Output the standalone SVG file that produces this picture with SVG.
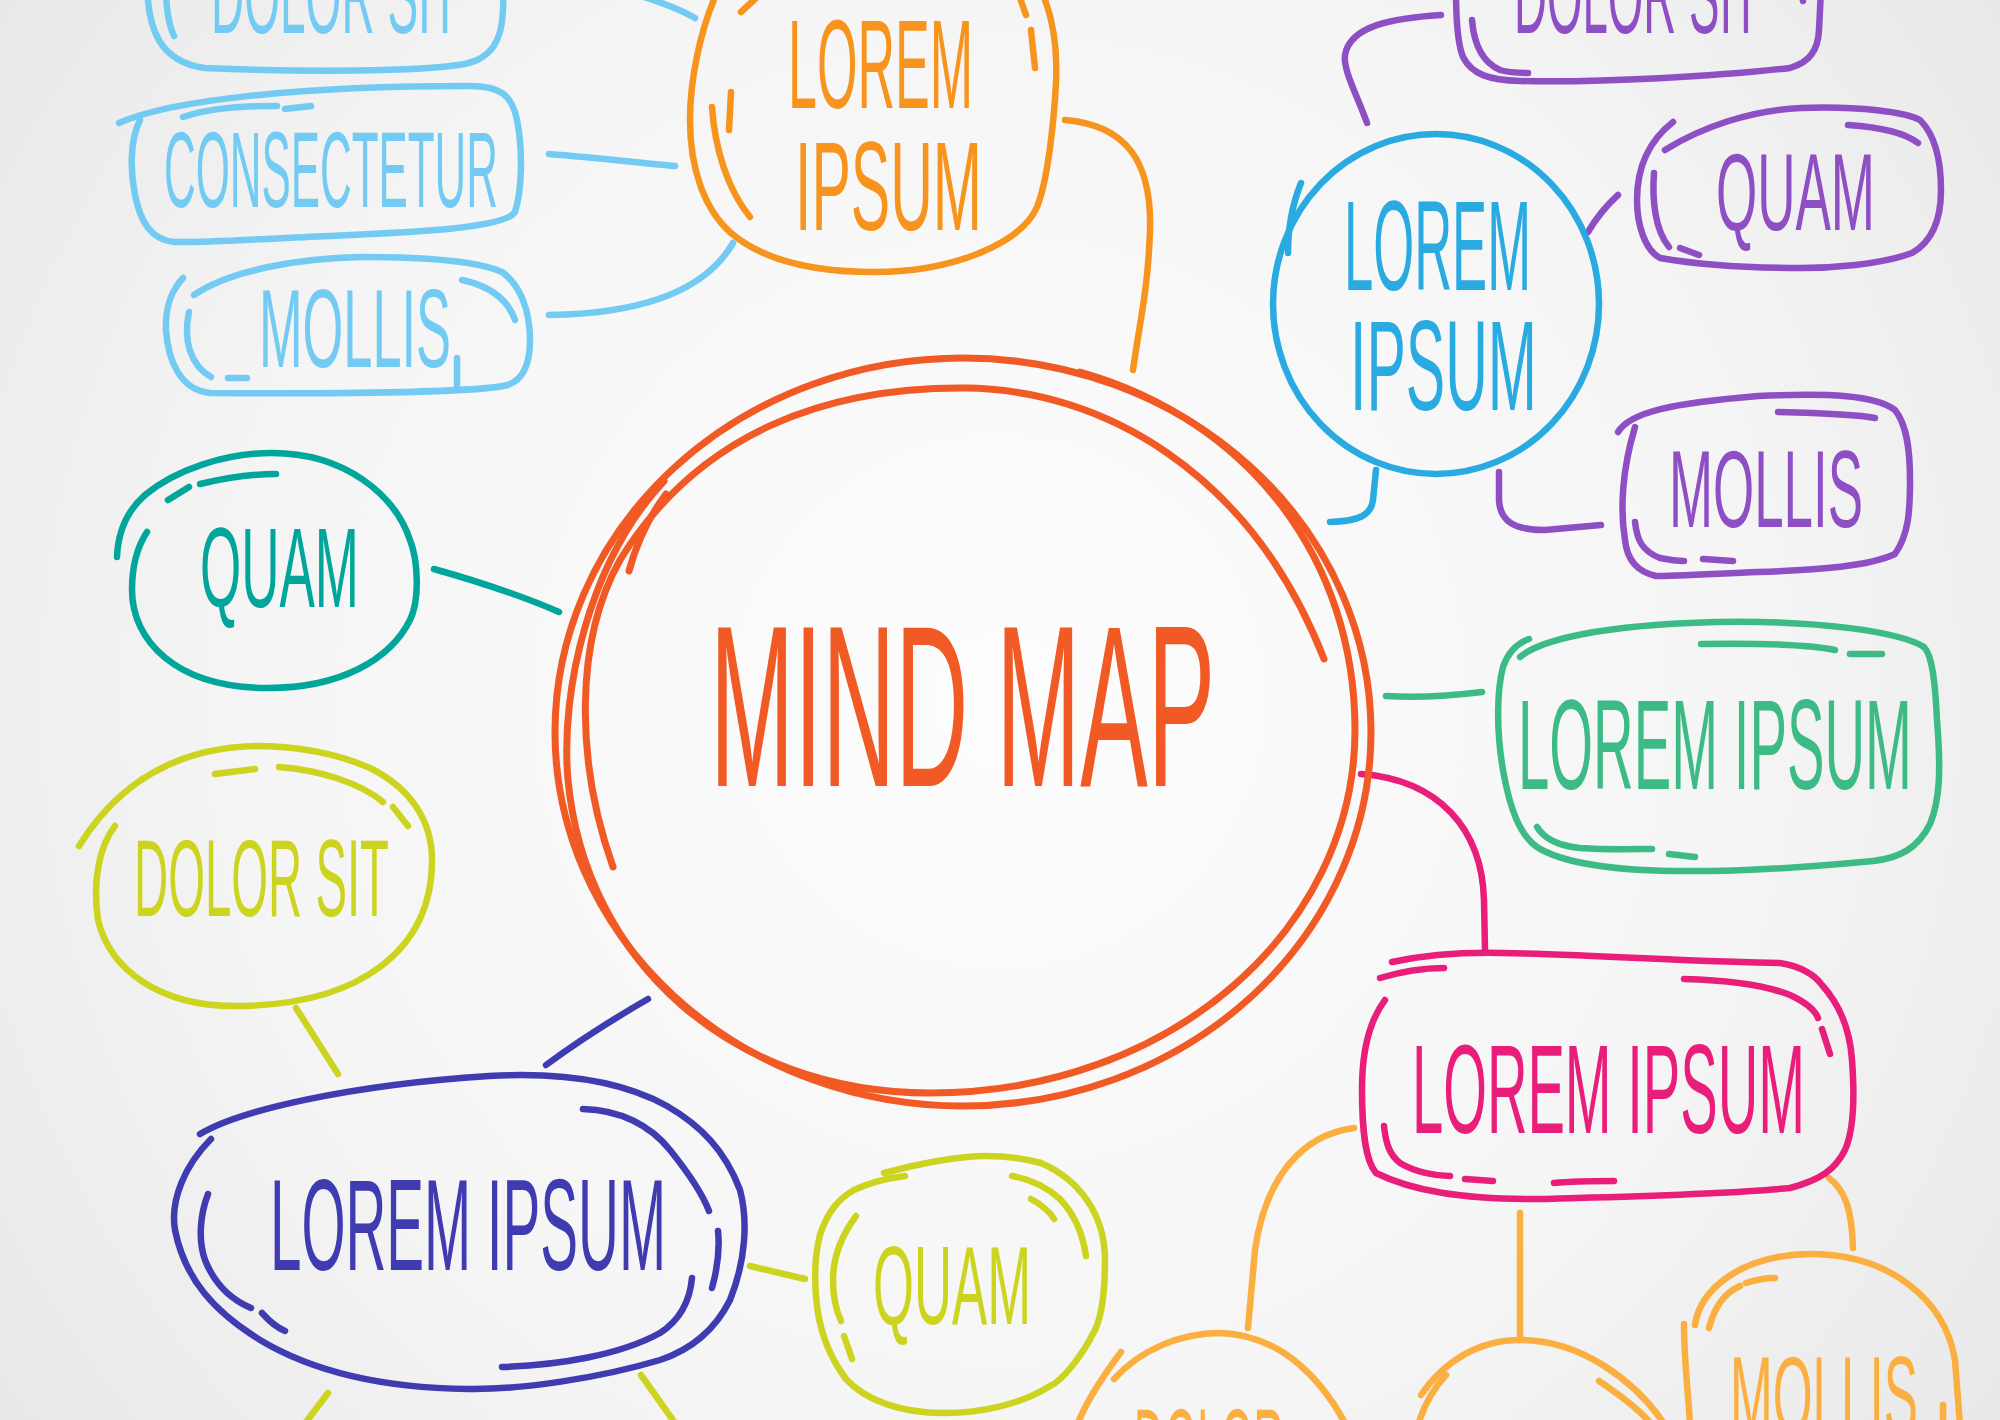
<svg xmlns="http://www.w3.org/2000/svg" width="2000" height="1420" viewBox="0 0 2000 1420">
<defs>
<radialGradient id="bg" cx="1000" cy="700" r="1250" gradientUnits="userSpaceOnUse">
<stop offset="0" stop-color="#fdfdfd"/>
<stop offset="0.6" stop-color="#f5f5f5"/>
<stop offset="1" stop-color="#e8e8e8"/>
</radialGradient>
</defs>
<style>
path,ellipse{fill:none;stroke-linecap:round;stroke-linejoin:round;stroke-width:6.5}
text{font-family:"Liberation Sans Narrow","Liberation Sans",Arial,sans-serif;font-weight:normal}
.lb{stroke:#73CBF3}.lbt{fill:#73CBF3}
.or{stroke:#F7941D}.ort{fill:#F7941D}
.rd{stroke:#F15A24;stroke-width:7}.rdt{fill:#F15A24}
.bl{stroke:#29AAE1}.blt{fill:#29AAE1}
.pu{stroke:#8E4FC4}.put{fill:#8E4FC4}
.te{stroke:#00A69C}.tet{fill:#00A69C}
.yg{stroke:#CCD420}.ygt{fill:#CCD420}
.in{stroke:#3F3BB1}.int{fill:#3F3BB1}
.gr{stroke:#3DBB87}.grt{fill:#3DBB87}
.mg{stroke:#E91E7B}.mgt{fill:#E91E7B}
.lo{stroke:#FAAF40}.lot{fill:#FAAF40}
</style>
<rect width="2000" height="1420" fill="url(#bg)"/>

<g id="connectors">
<path class="lb" d="M549,154 C600,158 640,163 675,166"/>
<path class="lb" d="M549,315 C620,314 700,300 733,243"/>
<path class="lb" d="M628,-8 C655,0 678,8 695,18"/>
<path class="or" d="M1065,120 C1125,125 1152,160 1150,230 C1148,290 1140,320 1133,370"/>
<path class="bl" d="M1376,470 L1373,500 C1371,515 1360,521 1330,522"/>
<path class="pu" d="M1367,123 C1357,95 1343,70 1345,55 C1350,25 1395,18 1441,15"/>
<path class="pu" d="M1588,232 C1598,215 1607,205 1618,195"/>
<path class="pu" d="M1499,472 L1499,500 C1500,522 1515,530 1545,530 L1601,525"/>
<path class="gr" d="M1386,696 C1420,698 1450,696 1482,692"/>
<path class="mg" d="M1361,774 C1440,780 1482,830 1484,900 L1485,950"/>
<path class="lo" d="M1354,1128 C1300,1135 1265,1180 1255,1250 L1248,1328"/>
<path class="lo" d="M1520,1213 L1520,1340"/>
<path class="lo" d="M1829,1178 C1845,1190 1852,1210 1853,1248"/>
<path class="te" d="M434,569 C480,582 520,595 559,612"/>
<path class="yg" d="M296,1008 L338,1074"/>
<path class="yg" d="M750,1266 L805,1279"/>
<path class="yg" d="M328,1393 L300,1430"/>
<path class="yg" d="M641,1375 L680,1430"/>
<path class="in" d="M546,1065 C580,1040 615,1018 648,999"/>
</g>

<g id="node-mindmap">
<ellipse class="rd" cx="963" cy="732" rx="408" ry="374"/>
<path class="rd" d="M613,867 C575,760 575,640 620,560 C700,430 830,387 965,388 C1100,389 1250,470 1324,659"/>
<path class="rd" d="M1080,372 C1250,420 1355,560 1355,730 C1355,930 1170,1093 930,1093 C730,1093 585,960 568,780 C560,690 590,560 664,481"/>
<path class="rd" d="M666,494 C648,518 636,545 629,571"/>
<text class="rdt" x="710" y="786" font-size="230" textLength="505" lengthAdjust="spacingAndGlyphs">MIND MAP</text>
</g>

<g id="node-dolorsit-lb">
<path class="lb" d="M147,-20 C147,30 160,62 205,68 C300,72 420,72 465,64 C492,58 502,40 503,10 L504,-20"/>
<path class="lb" d="M166,-5 C167,15 170,28 174,36"/>
<text class="lbt" x="211" y="33" font-size="108" textLength="248" lengthAdjust="spacingAndGlyphs">DOLOR SIT</text>
</g>

<g id="node-consectetur">
<path class="lb" d="M119,123 C170,100 300,86 470,86 C500,86 512,95 517,120 C523,150 522,190 515,212 C505,228 420,232 330,236 C260,239 200,243 175,242 C150,240 140,220 135,195 C130,170 130,140 140,120"/>
<path class="lb" d="M183,117 C210,108 240,106 277,106"/>
<path class="lb" d="M285,109 L311,106"/>
<text class="lbt" x="164" y="207" font-size="108" textLength="334" lengthAdjust="spacingAndGlyphs">CONSECTETUR</text>
</g>

<g id="node-mollis-lb">
<path class="lb" d="M194,295 C230,270 300,258 362,257 C430,257 480,262 502,272 C520,285 530,310 530,340 C530,365 522,380 508,385 C480,392 350,394 210,393 C180,390 168,360 166,330 C165,305 172,290 183,278"/>
<path class="lb" d="M189,312 C183,340 190,365 211,377"/>
<path class="lb" d="M228,378 L247,378"/>
<path class="lb" d="M462,280 C490,286 508,300 515,320"/>
<path class="lb" d="M457,358 L457,390"/>
<text class="lbt" x="259" y="367" font-size="112" textLength="192" lengthAdjust="spacingAndGlyphs">MOLLIS</text>
</g>

<g id="node-loremipsum-orange">
<path class="or" d="M718,-10 C700,30 690,80 690,120 C690,170 705,210 731,233 C765,262 820,272 875,272 C950,272 1020,245 1037,207 C1048,180 1054,120 1056,83 C1058,40 1050,10 1041,-10"/>
<path class="or" d="M712,107 C715,150 728,190 750,217"/>
<path class="or" d="M731,92 L729,130"/>
<path class="or" d="M741,12 L756,-2"/>
<path class="or" d="M1031,30 L1035,68"/>
<path class="or" d="M1020,-2 L1026,15"/>
<text class="ort" x="788" y="108" font-size="126" textLength="185" lengthAdjust="spacingAndGlyphs">LOREM</text>
<text class="ort" x="795" y="230" font-size="126" textLength="187" lengthAdjust="spacingAndGlyphs">IPSUM</text>
</g>

<g id="node-loremipsum-blue">
<ellipse class="bl" cx="1436" cy="304" rx="163" ry="170"/>
<path class="bl" d="M1301,183 C1292,205 1288,230 1288,253"/>
<text class="blt" x="1344" y="290" font-size="128" textLength="187" lengthAdjust="spacingAndGlyphs">LOREM</text>
<text class="blt" x="1350" y="410" font-size="128" textLength="187" lengthAdjust="spacingAndGlyphs">IPSUM</text>
</g>

<g id="node-dolorsit-purple">
<path class="pu" d="M1456,-10 C1456,20 1458,45 1463,57 C1472,75 1490,80 1520,81 C1600,83 1720,76 1790,68 C1810,62 1818,50 1819,30 L1821,-10"/>
<path class="pu" d="M1472,20 C1474,45 1482,62 1500,70 C1510,73 1520,73 1528,73"/>
<path class="pu" d="M1802,-5 L1803,1"/>
<text class="put" x="1514" y="33" font-size="108" textLength="246" lengthAdjust="spacingAndGlyphs">DOLOR SIT</text>
</g>

<g id="node-quam-purple">
<path class="pu" d="M1665,150 C1700,128 1750,110 1801,108 C1860,106 1905,112 1920,120 C1935,135 1941,160 1941,190 C1941,215 1935,240 1912,253 C1880,265 1830,268 1801,268 C1750,268 1700,265 1660,258 C1645,250 1637,225 1637,200 C1637,165 1650,140 1673,122"/>
<path class="pu" d="M1654,173 C1652,200 1655,230 1669,247"/>
<path class="pu" d="M1680,248 L1699,255"/>
<path class="pu" d="M1848,125 C1880,127 1905,133 1918,143"/>
<text class="put" x="1716" y="230" font-size="109" textLength="159" lengthAdjust="spacingAndGlyphs">QUAM</text>
</g>

<g id="node-mollis-purple">
<path class="pu" d="M1618,432 C1630,412 1673,403 1758,396 C1830,393 1875,395 1895,410 C1907,425 1910,450 1910,480 C1910,510 1909,534 1895,554 C1870,566 1820,570 1758,572 C1710,574 1670,576 1656,576 C1638,572 1627,560 1625,540 C1620,510 1622,470 1635,427"/>
<path class="pu" d="M1778,412 C1820,413 1855,414 1875,418"/>
<path class="pu" d="M1635,522 C1637,540 1642,551 1660,558 C1670,560 1678,561 1684,561"/>
<path class="pu" d="M1703,559 L1733,561"/>
<text class="put" x="1669" y="527" font-size="109" textLength="194" lengthAdjust="spacingAndGlyphs">MOLLIS</text>
</g>

<g id="node-loremipsum-green">
<path class="gr" d="M1520,657 C1540,640 1600,625 1716,622 C1820,620 1900,632 1924,647 C1932,655 1935,680 1937,720 C1941,770 1940,800 1930,824 C1918,848 1900,858 1873,861 C1800,868 1740,872 1673,871 C1610,870 1560,862 1537,847 C1520,835 1510,810 1503,770 C1496,730 1497,690 1503,667 C1508,652 1518,643 1529,639"/>
<path class="gr" d="M1701,644 C1760,643 1810,645 1835,650"/>
<path class="gr" d="M1850,654 L1882,654"/>
<path class="gr" d="M1537,827 C1545,840 1560,846 1580,848 C1610,850 1635,849 1652,849"/>
<path class="gr" d="M1669,854 L1695,857"/>
<text class="grt" x="1518" y="789" font-size="128" textLength="394" lengthAdjust="spacingAndGlyphs">LOREM IPSUM</text>
</g>

<g id="node-loremipsum-magenta">
<path class="mg" d="M1385,1000 C1370,1020 1362,1050 1362,1089 C1362,1130 1365,1160 1376,1173 C1410,1190 1460,1200 1546,1199 C1600,1197 1720,1195 1790,1188 C1820,1180 1835,1170 1845,1150 C1854,1130 1855,1100 1852,1060 C1850,1030 1840,1005 1822,985 C1815,975 1800,966 1780,963 C1700,962 1600,955 1503,953 C1460,952 1420,956 1392,962"/>
<path class="mg" d="M1380,978 C1400,972 1420,968 1444,968"/>
<path class="mg" d="M1684,979 C1720,980 1760,983 1790,995 C1805,1002 1815,1010 1818,1018"/>
<path class="mg" d="M1822,1029 L1830,1054"/>
<path class="mg" d="M1384,1126 C1386,1145 1390,1155 1400,1163 C1415,1172 1435,1176 1450,1176"/>
<path class="mg" d="M1465,1179 L1493,1181"/>
<path class="mg" d="M1554,1183 C1575,1181 1595,1181 1614,1181"/>
<text class="mgt" x="1412" y="1133" font-size="127" textLength="393" lengthAdjust="spacingAndGlyphs">LOREM IPSUM</text>
</g>

<g id="node-dolor-lightorange">
<path class="lo" d="M1114,1379 C1140,1350 1180,1333 1220,1333 C1285,1335 1325,1385 1346,1425"/>
<path class="lo" d="M1121,1352 C1100,1380 1085,1405 1077,1425"/>
<text class="lot" x="1134" y="1485" font-size="109" textLength="150" lengthAdjust="spacingAndGlyphs">DOLOR</text>
</g>

<g id="node-middle-lightorange">
<path class="lo" d="M1421,1395 C1445,1360 1480,1340 1520,1340 C1580,1340 1635,1380 1665,1425"/>
<path class="lo" d="M1446,1375 C1432,1390 1424,1405 1418,1425"/>
<path class="lo" d="M1599,1381 C1620,1395 1640,1410 1652,1425"/>
</g>

<g id="node-mollis-lightorange">
<path class="lo" d="M1695,1325 C1700,1290 1740,1255 1810,1254 C1890,1254 1945,1300 1955,1360 L1960,1425"/>
<path class="lo" d="M1684,1324 C1684,1360 1688,1390 1690,1425"/>
<path class="lo" d="M1709,1328 C1715,1305 1725,1293 1740,1286"/>
<path class="lo" d="M1746,1283 C1755,1280 1765,1278 1775,1278"/>
<path class="lo" d="M1943,1405 L1943,1425"/>
<text class="lot" x="1730" y="1433" font-size="109" textLength="188" lengthAdjust="spacingAndGlyphs">MOLLIS</text>
</g>

<g id="node-quam-teal">
<path class="te" d="M147,532 C135,550 132,570 132,590 C132,640 175,688 268,688 C340,688 390,660 410,620 C420,600 418,560 410,540 C395,495 345,453 272,453 C225,453 175,470 145,495 C128,510 118,530 117,557"/>
<path class="te" d="M168,500 L189,487"/>
<path class="te" d="M200,484 C230,477 255,474 276,474"/>
<text class="tet" x="200" y="607" font-size="113" textLength="159" lengthAdjust="spacingAndGlyphs">QUAM</text>
</g>

<g id="node-dolorsit-yellow">
<path class="yg" d="M79,846 C120,780 180,748 255,746 C300,746 340,755 370,768 C410,788 432,820 432,860 C432,950 360,1006 234,1006 C160,1006 110,970 98,920 C92,880 100,845 115,826"/>
<path class="yg" d="M215,774 L255,769"/>
<path class="yg" d="M279,767 C320,770 360,783 383,802"/>
<path class="yg" d="M393,807 L408,826"/>
<text class="ygt" x="134" y="916" font-size="110" textLength="255" lengthAdjust="spacingAndGlyphs">DOLOR SIT</text>
</g>

<g id="node-quam-yellow">
<path class="yg" d="M884,1173 C920,1163 960,1156 986,1156 C1010,1156 1030,1160 1041,1163 C1080,1180 1105,1215 1105,1260 C1105,1290 1103,1313 1095,1330 C1080,1360 1060,1382 1050,1386 C1020,1405 980,1413 944,1413 C900,1413 865,1400 846,1379 C828,1355 818,1325 816,1296 C814,1270 816,1250 820,1235 C828,1210 840,1198 854,1190 C870,1182 890,1178 905,1176"/>
<path class="yg" d="M856,1216 C842,1235 833,1255 833,1280 C833,1295 836,1310 841,1321"/>
<path class="yg" d="M844,1336 L852,1359"/>
<path class="yg" d="M1012,1176 C1035,1180 1050,1190 1060,1199 C1075,1215 1083,1235 1086,1256"/>
<path class="yg" d="M1031,1199 C1042,1205 1050,1212 1054,1219"/>
<text class="ygt" x="873" y="1324" font-size="111" textLength="158" lengthAdjust="spacingAndGlyphs">QUAM</text>
</g>

<g id="node-loremipsum-indigo">
<path class="in" d="M200,1134 C240,1110 350,1085 489,1076 C560,1072 620,1080 667,1106 C700,1125 725,1150 740,1190 C748,1220 746,1260 730,1300 C715,1330 690,1350 660,1360 C600,1378 520,1390 468,1389 C380,1388 310,1370 260,1340 C215,1312 185,1280 175,1230 C170,1200 185,1165 211,1139"/>
<path class="in" d="M208,1194 C200,1215 198,1240 205,1260 C215,1285 232,1300 251,1308"/>
<path class="in" d="M262,1313 C270,1322 278,1328 285,1331"/>
<path class="in" d="M502,1367 C560,1365 620,1355 660,1333 C680,1320 690,1300 692,1278"/>
<path class="in" d="M583,1109 C620,1110 650,1125 670,1150 C690,1175 703,1195 709,1211"/>
<path class="in" d="M718,1231 C720,1250 717,1270 712,1288"/>
<text class="int" x="270" y="1270" font-size="130" textLength="396" lengthAdjust="spacingAndGlyphs">LOREM IPSUM</text>
</g>
</svg>
